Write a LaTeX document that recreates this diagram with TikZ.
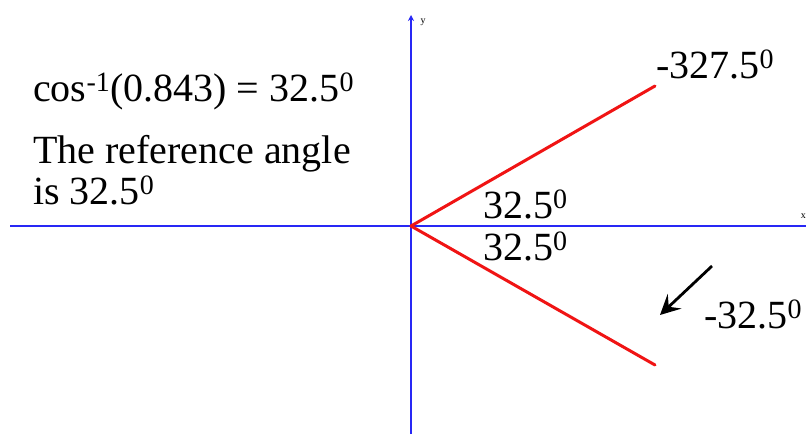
\documentclass[tikz,border=0pt]{standalone}
\usepackage{fontspec}
\setmainfont{Liberation Serif}
\usetikzlibrary{arrows.meta}
\definecolor{axisblue}{RGB}{40,40,245}
\definecolor{termred}{RGB}{240,20,20}
\tikzset{
  axis/.style={draw=axisblue, line width=1.2pt},
  term/.style={draw=termred, line width=3pt},
  bigtext/.style={inner sep=0pt, anchor=base west, font=\fontsize{40}{40}\selectfont},
  smalllabel/.style={inner sep=0pt, font=\fontsize{10}{10}\selectfont}
}
\begin{document}
\begin{tikzpicture}[x=1pt,y=-1pt]
\clip (0,0) rectangle (806,434);
\fill[white] (0,0) rectangle (806,434);
\coordinate (O) at (411,226);
\coordinate (xl) at (10,226);
\coordinate (xr) at (806,226);
\coordinate (yb) at (411,434);
\coordinate (yt) at (411,15);
\coordinate (P1) at (655,86);
\coordinate (P2) at (655,365);
\coordinate (A1) at (712,266);
\coordinate (A2) at (660,315);
\draw[axis] (xl) -- (xr);
\draw[axis, -{Stealth[length=6pt,width=6pt]}] (yb) -- (yt);
\node[smalllabel] (ylab) at (423,22) {y};
\node[smalllabel, anchor=east] (xlab) at (806,216) {x};
\draw[term, line cap=round] (O) -- (P1);
\draw[term, line cap=round] (O) -- (P2);
\draw[line width=2.8pt, -{Stealth[length=20pt,width=20pt,inset=8pt]}] (A1) -- (A2);
\node[bigtext] (t1) at (33,101) {cos\textsuperscript{-1}(0.843) = 32.5\textsuperscript{0}};
\node[bigtext] (t2) at (33,163) {The reference angle};
\node[bigtext] (t3) at (33,204) {is 32.5\textsuperscript{0}};
\node[bigtext] (l1) at (483,218) {32.5\textsuperscript{0}};
\node[bigtext] (l2) at (483,260) {32.5\textsuperscript{0}};
\node[bigtext] (l3) at (656,78) {-327.5\textsuperscript{0}};
\node[bigtext] (l4) at (704,328) {-32.5\textsuperscript{0}};
\end{tikzpicture}
\end{document}
